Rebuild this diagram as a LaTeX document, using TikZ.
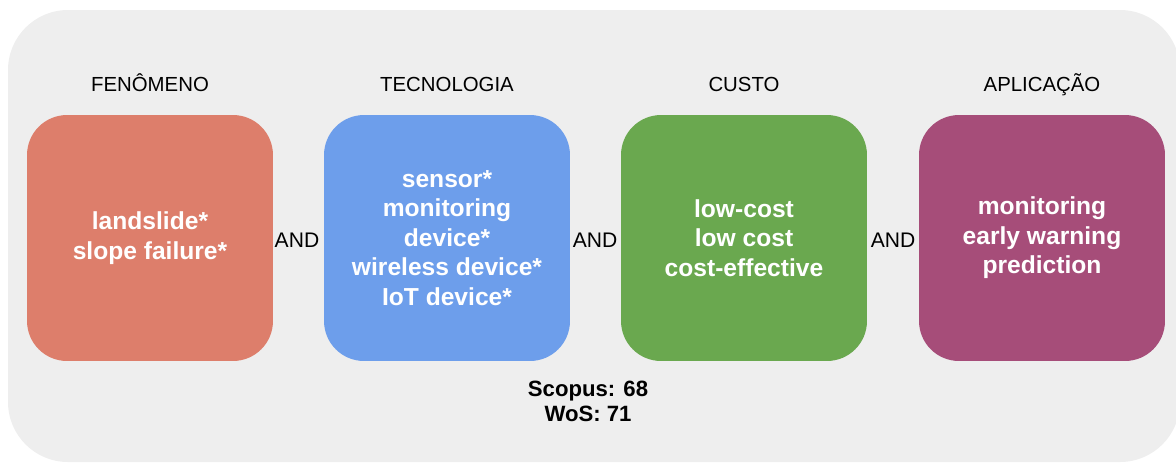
\documentclass[tikz,border=0pt]{standalone}
\usepackage{fontspec}
\setmainfont{Liberation Sans}
\usepackage{tikz}
\usetikzlibrary{positioning}

\definecolor{fenred}{HTML}{DD7E6B}
\definecolor{tecblue}{HTML}{6D9EEB}
\definecolor{custgreen}{HTML}{6AA84F}
\definecolor{aplpurple}{HTML}{A64D79}
\definecolor{panelgray}{HTML}{EEEEEE}

\tikzset{
    termbox/.style={rounded corners=0.8cm,
        minimum width=4.92cm,
        minimum height=4.92cm,
        text=white, align=center,
        font=\fontsize{14}{16.8}\selectfont\bfseries},
    header/.style={anchor=base, font=\fontsize{11.6}{14}\selectfont},
    andlabel/.style={font=\fontsize{12}{14}\selectfont}
}

\begin{document}
\begin{tikzpicture}[x=0.02cm, y=-0.02cm]
        \useasboundingbox (0,0) rectangle (1176,464);

        \fill[panelgray, rounded corners=1.2cm]
        (8,10) rectangle (1180,462);

        \node[termbox, fill=fenred] (fen) at (150,238)
        {landslide*\\slope failure*};

        \node[termbox, fill=tecblue] (tec) at (447,238)
        {sensor*\\monitoring\\device*\\wireless device*\\IoT device*};

        \node[termbox, fill=custgreen] (cus) at (744,238)
        {low-cost\\low cost\\cost-effective};

        \node[termbox, fill=aplpurple] (apl) at (1042,238)
        {monitoring\\early warning\\prediction};

        \node[header] (hfen) at (150,91) {FENÔMENO};
        \node[header] (htec) at (447,91) {TECNOLOGIA};
        \node[header] (hcus) at (744,91) {CUSTO};
        \node[header] (hapl) at (1042,91) {APLICAÇÃO};

        \node[andlabel] (and1) at (297,240) {AND};
        \node[andlabel] (and2) at (595,240) {AND};
        \node[andlabel] (and3) at (893,240) {AND};

        \node[align=center, font=\fontsize{12.6}{14.2}\selectfont\bfseries]
        (count) at (588,401) {Scopus: 68\\WoS: 71};
\end{tikzpicture}
\end{document}
